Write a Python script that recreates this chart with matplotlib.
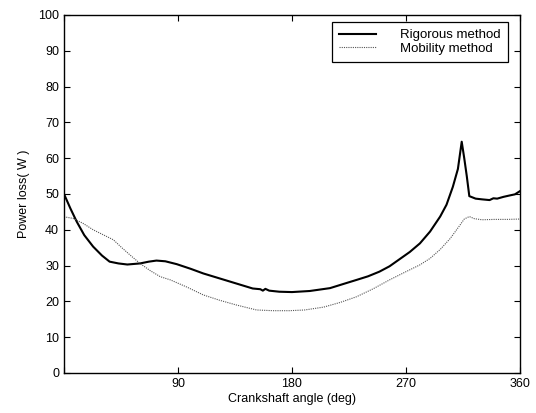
import matplotlib
matplotlib.use('Agg')
import matplotlib.pyplot as plt

plt.rcParams['font.family'] = ['Liberation Sans', 'DejaVu Sans']

# Rigorous method
rig_angle = [0, 5, 10, 16, 23, 30, 36, 43, 50, 60, 67, 73, 80, 89, 100, 110,
             123, 136, 149, 155, 157, 159, 162, 170, 180, 194, 210, 220, 231,
             240, 249, 257, 265, 273, 281, 289, 297, 302, 307, 311, 314, 316,
             318, 320, 325, 330, 336, 339, 342, 347, 352, 356, 360]
rig_loss = [50, 46, 42.3, 38.5, 35.3, 32.8, 31.1, 30.6, 30.3, 30.6, 31.1, 31.4,
            31.2, 30.4, 29.1, 27.8, 26.4, 25, 23.6, 23.4, 23.0, 23.5, 23.0, 22.7,
            22.6, 22.9, 23.7, 24.8, 26, 27, 28.3, 29.8, 31.8, 33.8, 36.2, 39.5,
            43.7, 47, 52, 57, 64.6, 60, 55, 49.4, 48.7, 48.5, 48.3, 48.8, 48.7,
            49.2, 49.6, 49.9, 50.8]

# Mobility method
mob_angle = [0, 2, 7, 15, 23, 31, 39, 45, 52, 60, 68, 76, 84, 97, 110, 123, 136,
             152, 165, 178, 190, 205, 218, 231, 244, 257, 270, 281, 289, 297, 305,
             312, 316, 320, 324, 330, 340, 350, 360]
mob_loss = [43.5, 43.5, 43.2, 41.8, 40, 38.6, 37.2, 35.2, 33, 30.6, 28.6, 26.9,
            26, 24, 21.8, 20.3, 19, 17.6, 17.4, 17.4, 17.6, 18.4, 19.7, 21.3, 23.5,
            26, 28.3, 30.2, 32, 34.5, 37.6, 41, 43, 43.7, 43.1, 42.8, 42.9, 42.9, 43]

x_ticks = [0, 90, 180, 270, 360]
x_labels = ['', '90', '180', '270', '360']
y_ticks = list(range(0, 101, 10))

fig = plt.figure(figsize=(5.36, 4.13), dpi=100)
ax = fig.add_axes([0.1194, 0.0969, 0.8507, 0.8668])

ax.plot(rig_angle, rig_loss, color='black', linewidth=1.5, label='Rigorous method')
ax.plot(mob_angle, mob_loss, color='#555555', linewidth=0.8,
        linestyle=(0, (1, 1)), label='Mobility method')

ax.set_xlim(0, 360)
ax.set_ylim(0, 100)
ax.set_xticks(x_ticks)
ax.set_xticklabels(x_labels)
ax.set_yticks(y_ticks)
ax.tick_params(direction='in', top=True, right=True, labelsize=9, length=4, width=0.8)
for s in ax.spines.values():
    s.set_linewidth(1.0)

ax.set_xlabel('Crankshaft angle (deg)', fontsize=9, labelpad=2)
ax.set_ylabel('Power loss( W )', fontsize=9, labelpad=6)

# legend box sits inside the axes, top right
leg = ax.legend(loc='upper right', bbox_to_anchor=(508 / 536, 1 - 22 / 413),
                bbox_transform=fig.transFigure, fontsize=9.5, frameon=True,
                fancybox=False, edgecolor='black', framealpha=1,
                handlelength=2.8, handletextpad=1.8, borderpad=0.55,
                labelspacing=0.1, borderaxespad=0)
leg.get_frame().set_linewidth(0.9)

plt.savefig('out.png', dpi=100)
